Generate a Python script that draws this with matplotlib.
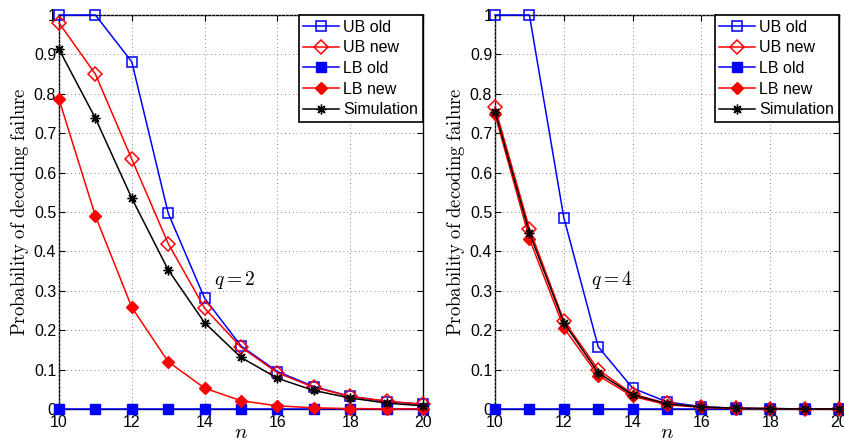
import matplotlib
matplotlib.use("Agg")
import matplotlib.pyplot as plt

n = [10, 11, 12, 13, 14, 15, 16, 17, 18, 19, 20]

# q = 2
ub_old_q2 = [1.0, 1.0, 0.881, 0.497, 0.281, 0.160, 0.095, 0.057, 0.032, 0.019, 0.012]
ub_new_q2 = [0.980, 0.850, 0.634, 0.420, 0.256, 0.157, 0.092, 0.055, 0.032, 0.020, 0.012]
lb_old_q2 = [0, 0, 0, 0, 0, 0, 0, 0, 0, 0, 0]
lb_new_q2 = [0.786, 0.490, 0.258, 0.120, 0.053, 0.021, 0.008, 0.003, 0.001, 0.0005, 0.0002]
sim_q2 = [0.913, 0.738, 0.535, 0.353, 0.219, 0.131, 0.078, 0.047, 0.028, 0.015, 0.008]

# q = 4
ub_old_q4 = [1.0, 1.0, 0.486, 0.158, 0.053, 0.018, 0.006, 0.002, 0.001, 0.0003, 0.0001]
ub_new_q4 = [0.766, 0.458, 0.224, 0.100, 0.038, 0.014, 0.005, 0.002, 0.001, 0.0003, 0.0001]
lb_old_q4 = [0, 0, 0, 0, 0, 0, 0, 0, 0, 0, 0]
lb_new_q4 = [0.748, 0.432, 0.206, 0.085, 0.032, 0.011, 0.004, 0.001, 0.0005, 0.0002, 0.0001]
sim_q4 = [0.755, 0.447, 0.219, 0.092, 0.036, 0.013, 0.005, 0.002, 0.001, 0.0003, 0.0001]

x_ticks = [10, 12, 14, 16, 18, 20]
y_ticks = [0, 0.1, 0.2, 0.3, 0.4, 0.5, 0.6, 0.7, 0.8, 0.9, 1.0]
y_tick_labels = ["0", "0.1", "0.2", "0.3", "0.4", "0.5", "0.6", "0.7", "0.8", "0.9", "1"]

plt.rcParams["font.family"] = ["Liberation Sans", "DejaVu Sans"]
plt.rcParams["mathtext.fontset"] = "cm"
plt.rcParams["font.size"] = 11.5

fig = plt.figure(figsize=(8.44, 4.44), dpi=100)
ax_left = fig.add_axes([59 / 844, 35 / 444, 364 / 844, 394 / 444])
ax_right = fig.add_axes([495 / 844, 35 / 444, 344 / 844, 394 / 444])

# matlab-style asterisk: 8 spokes
asterisk = (8, 2, 0)


def draw_panel(ax, ub_old, ub_new, lb_old, lb_new, sim, label, label_xy):
    lw = 1.1
    common = dict(lw=lw, clip_on=False)
    ax.plot(n, ub_old, color="#0000ff", marker="s", ms=7, mfc="none", mew=1.1, label="UB old", **common)
    ax.plot(n, ub_new, color="#ff0000", marker="D", ms=7, mfc="none", mew=1.1, label="UB new", **common)
    ax.plot(n, lb_old, color="#0000ff", marker="s", ms=6.5, mfc="#0000ff", mec="#0000ff", label="LB old", **common)
    ax.plot(n, lb_new, color="#ff0000", marker="D", ms=6.5, mfc="#ff0000", mec="#ff0000", label="LB new", **common)
    ax.plot(n, sim, color="black", marker=asterisk, ms=7, mew=1.0, mec="black", label="Simulation", **common)

    ax.set_xlim(10, 20)
    ax.set_ylim(0, 1)
    ax.set_xticks(x_ticks)
    ax.set_yticks(y_ticks)
    ax.set_yticklabels(y_tick_labels)
    ax.tick_params(direction="in", length=4, top=True, right=True, pad=2, width=0.8)
    ax.tick_params(axis="x", pad=4)
    ax.grid(True, linestyle=(0, (1, 3)), color="#888888", linewidth=0.7)
    for spine in ax.spines.values():
        spine.set_linewidth(1.0)
        spine.set_zorder(1)

    ax.set_xlabel(r"$n$", fontsize=15, labelpad=-5)
    ax.set_ylabel(r"$\mathrm{Probability\ of\ decoding\ failure}$", fontsize=13.5, labelpad=2)
    ax.text(label_xy[0], label_xy[1], label, fontsize=14)

    leg = ax.legend(loc="upper right", borderaxespad=0, fancybox=False, framealpha=1,
                    edgecolor="black", handlelength=2.2, handletextpad=0.3,
                    labelspacing=0.35, borderpad=0.3, fontsize=11.5)
    leg.get_frame().set_linewidth(1.2)
    leg.set_zorder(5)


draw_panel(ax_left, ub_old_q2, ub_new_q2, lb_old_q2, lb_new_q2, sim_q2, r"$q = 2$", (14.25, 0.315))
draw_panel(ax_right, ub_old_q4, ub_new_q4, lb_old_q4, lb_new_q4, sim_q4, r"$q = 4$", (12.8, 0.315))

fig.savefig("out.png", dpi=100)
